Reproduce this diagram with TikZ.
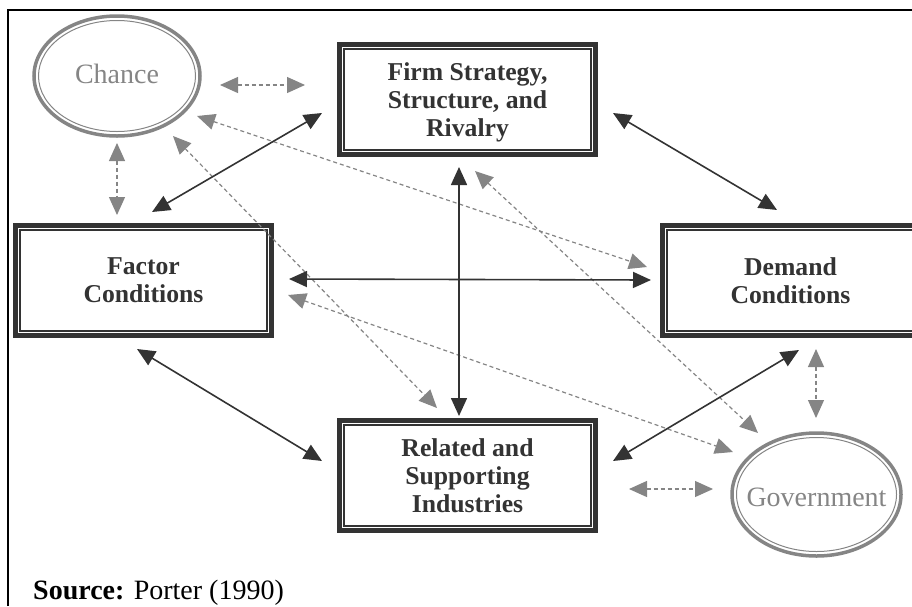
\documentclass[tikz,border=0pt]{standalone}
\usepackage{fontspec}
\setmainfont{Liberation Serif}
\usetikzlibrary{arrows.meta}
\definecolor{dk}{HTML}{333333}
\definecolor{gr}{HTML}{858585}
\tikzset{
  boxnode/.style={draw=dk, line width=5pt, minimum width=256pt, minimum height=110pt,
    inner sep=0pt, align=center, text=dk, text depth=0pt,
    font=\fontsize{25.7}{28}\selectfont\bfseries},
  innerbox/.style={draw=dk, line width=1.5pt},
  ovalouter/.style={draw=gr, line width=3.5pt},
  ovalinner/.style={draw=gr, line width=1pt},
  ovaltext/.style={text=gr, font=\fontsize{28}{30}\selectfont, inner sep=0pt},
  solidarr/.style={draw=dk, line width=1.6pt, {Triangle[length=18pt,width=16pt]}-{Triangle[length=18pt,width=16pt]}},
  dasharr/.style={draw=gr, line width=1.2pt, dash pattern=on 4pt off 3pt,
    {Triangle[length=18pt,width=16pt]}-{Triangle[length=18pt,width=16pt]}},
}
\begin{document}
\begin{tikzpicture}[x=1pt,y=-1pt]
\useasboundingbox (0,0) rectangle (912,606);
% frame
\draw[line width=2pt] (8,606) -- (8,10) -- (914,10);

% boxes
\node[boxnode] (firm) at (467.5,99.5) {Firm Strategy,\\Structure, and\\Rivalry};
\node[boxnode] (factor) at (143.5,280.5) {Factor\\Conditions};
\node[boxnode] (demand) at (790.5,280.5) {Demand\\Conditions};
\node[boxnode] (related) at (467.5,475.5) {Related and\\Supporting\\Industries};
\foreach \n in {firm,factor,demand,related}{
  \draw[innerbox] ([shift={(6.8,6.8)}]\n.north west) rectangle ([shift={(-6.8,-6.8)}]\n.south east);
}

% ellipses
\draw[ovalouter] (117,76) ellipse [x radius=83, y radius=60];
\draw[ovalinner] (117,76) ellipse [x radius=78.5, y radius=55.5];
\node[ovaltext] (chance) at (117,74) {Chance};
\draw[ovalouter] (816.5,494.5) ellipse [x radius=84.5, y radius=61.5];
\draw[ovalinner] (816.5,494.5) ellipse [x radius=80, y radius=57];
\node[ovaltext] (gov) at (816.5,497) {Government};

% arrow end points
\coordinate (fa1) at (152,212);  \coordinate (fi1) at (322,113);
\coordinate (fi2) at (613,113);  \coordinate (de1) at (777,210);
\coordinate (fa2) at (137,349);  \coordinate (re1) at (322,461);
\coordinate (re2) at (613,461);  \coordinate (de2) at (799,350);
\coordinate (fi3) at (459,167);  \coordinate (re3) at (459,416);
\coordinate (fa3) at (289,279);  \coordinate (de3) at (651,280);

\coordinate (ch1) at (220,85);   \coordinate (fi4) at (305,85);
\coordinate (ch2) at (117,143);  \coordinate (fa4) at (117,215);
\coordinate (ch3) at (197,116);  \coordinate (de4) at (647,267);
\coordinate (ch4) at (173,136);  \coordinate (re4) at (437,408);
\coordinate (fi5) at (475,171);  \coordinate (go1) at (758,433);
\coordinate (fa5) at (288,295);  \coordinate (go2) at (733,452);
\coordinate (de5) at (816,349);  \coordinate (go3) at (816,418);
\coordinate (re5) at (629,489);  \coordinate (go4) at (713,489);

% dashed (gray)
\draw[dasharr] (ch1) -- (fi4);
\draw[dasharr] (ch2) -- (fa4);
\draw[dasharr] (ch3) -- (de4);
\draw[dasharr] (ch4) -- (re4);
\draw[dasharr] (fi5) -- (go1);
\draw[dasharr] (fa5) -- (go2);
\draw[dasharr] (de5) -- (go3);
\draw[dasharr] (re5) -- (go4);

% solid (dark)
\draw[solidarr] (fa1) -- (fi1);
\draw[solidarr] (fi2) -- (de1);
\draw[solidarr] (fa2) -- (re1);
\draw[solidarr] (re2) -- (de2);
\draw[solidarr] (fi3) -- (re3);
\draw[solidarr] (fa3) -- (de3);

% source
\node[anchor=base west, inner sep=0pt, font=\fontsize{28}{30}\selectfont] (src) at (33,599) {\textbf{Source:} Porter (1990)};
\end{tikzpicture}
\end{document}
